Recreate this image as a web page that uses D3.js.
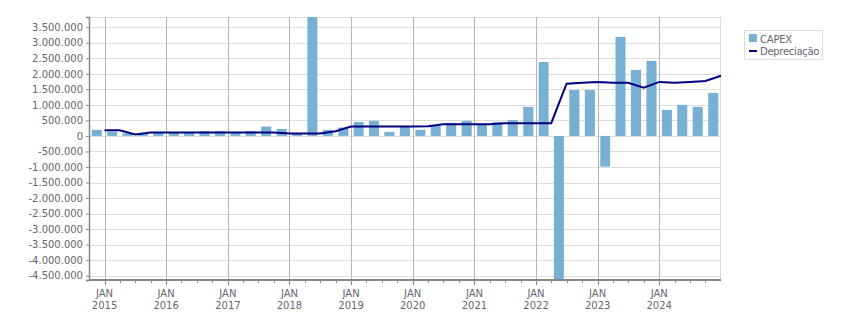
<!DOCTYPE html>
<html>
<head>
<meta charset="utf-8">
<script src="https://cdn.jsdelivr.net/npm/d3@7"></script>
<style>
  body { margin: 0; background: #fff; }
  svg { display: block; font-family: "DejaVu Sans", sans-serif; }
</style>
</head>
<body>
<svg id="grafico"></svg>
<script>
// trimestres (ano-trimestre), de 4T2014 a 4T2024
var trimestres = [
  "2014-4",
  "2015-1", "2015-2", "2015-3", "2015-4",
  "2016-1", "2016-2", "2016-3", "2016-4",
  "2017-1", "2017-2", "2017-3", "2017-4",
  "2018-1", "2018-2", "2018-3", "2018-4",
  "2019-1", "2019-2", "2019-3", "2019-4",
  "2020-1", "2020-2", "2020-3", "2020-4",
  "2021-1", "2021-2", "2021-3", "2021-4",
  "2022-1", "2022-2", "2022-3", "2022-4",
  "2023-1", "2023-2", "2023-3", "2023-4",
  "2024-1", "2024-2", "2024-3", "2024-4"
];

var capex = [
  195000,
  140000, 85000, 85000, 100000,
  95000, 100000, 160000, 160000,
  90000, 160000, 300000, 225000,
  60000, 3830000, 195000, 270000,
  450000, 485000, 130000, 300000,
  195000, 320000, 420000, 485000,
  375000, 450000, 515000, 935000,
  2380000, -4640000, 1480000, 1480000,
  -990000, 3190000, 2125000, 2415000,
  840000, 1000000, 935000, 1385000
];

var depreciacao = [
  180000,
  180000, 50000, 110000, 110000,
  110000, 110000, 110000, 110000,
  110000, 110000, 110000, 80000,
  75000, 75000, 150000, 300000,
  300000, 300000, 300000, 300000,
  310000, 375000, 375000, 375000,
  375000, 410000, 410000, 410000,
  410000, 1680000, 1710000, 1740000,
  1710000, 1710000, 1550000, 1740000,
  1710000, 1740000, 1770000, 1940000
];

var anos = ["2015", "2016", "2017", "2018", "2019", "2020", "2021", "2022", "2023", "2024"];
var yTicks = [-4500000, -4000000, -3500000, -3000000, -2500000, -2000000, -1500000, -1000000,
  -500000, 0, 500000, 1000000, 1500000, 2000000, 2500000, 3000000, 3500000];

var largura = 851, altura = 313;
var margin = { top: 17, right: 130, bottom: 33, left: 89 };
var w = largura - margin.left - margin.right;
var h = altura - margin.top - margin.bottom;

var corBarra = "#78b0d3";
var corLinha = "#000080";
var corTexto = "#666670";

// inicio e fim de cada trimestre
function inicioTri(t) {
  var p = t.split("-");
  return new Date(+p[0], (+p[1] - 1) * 3, 1);
}
function fimTri(t) {
  var p = t.split("-");
  return new Date(+p[0], (+p[1]) * 3, 1);
}

var dados = trimestres.map(function(t, i) {
  return { ini: inicioTri(t), fim: fimTri(t), capex: capex[i], dep: depreciacao[i] };
});

var svg = d3.select("#grafico")
  .attr("width", largura)
  .attr("height", altura);

var g = svg.append("g")
  .attr("transform", "translate(" + margin.left + "," + margin.top + ")");

var x = d3.scaleTime()
  .domain([dados[0].ini, dados[dados.length - 1].fim])
  .range([0, w]);

var y = d3.scaleLinear()
  .domain(d3.extent(capex))
  .range([h, 0]);

var locale = d3.formatLocale({ decimal: ",", thousands: ".", grouping: [3], currency: ["R$", ""], minus: "-" });
var fmt = locale.format(",.0f");

/* grade horizontal */
g.append("g")
  .selectAll("line")
  .data(yTicks)
  .enter()
  .append("line")
  .attr("x1", 0)
  .attr("x2", w)
  .attr("y1", function(d) { return Math.round(y(d)) + 0.5; })
  .attr("y2", function(d) { return Math.round(y(d)) + 0.5; })
  .attr("stroke", "#dcdcdc");

// borda de cima e direita
g.append("line").attr("x1", 0).attr("x2", w).attr("y1", 0.5).attr("y2", 0.5).attr("stroke", "#dcdcdc");
g.append("line").attr("x1", w - 0.5).attr("x2", w - 0.5).attr("y1", 0).attr("y2", h).attr("stroke", "#dcdcdc");

/* grade vertical nos JAN */
var janeiros = anos.map(function(a) { return new Date(+a, 0, 1); });
g.append("g")
  .selectAll("line")
  .data(janeiros)
  .enter()
  .append("line")
  .attr("x1", function(d) { return Math.round(x(d)) + 0.5; })
  .attr("x2", function(d) { return Math.round(x(d)) + 0.5; })
  .attr("y1", 0)
  .attr("y2", h)
  .attr("stroke", "#b4b4b4");

/* barras */
g.append("g")
  .selectAll("rect")
  .data(dados)
  .enter()
  .append("rect")
  .attr("x", function(d) {
    var meio = (x(d.ini) + x(d.fim)) / 2;
    var passo = x(d.fim) - x(d.ini);
    return meio - passo * 0.325;
  })
  .attr("width", function(d) { return (x(d.fim) - x(d.ini)) * 0.65; })
  .attr("y", function(d) { return y(Math.max(0, d.capex)); })
  .attr("height", function(d) { return Math.abs(y(d.capex) - y(0)); })
  .attr("fill", corBarra);

/* linha depreciacao */
var linha = d3.line()
  .x(function(d) { return x(d.fim); })
  .y(function(d) { return y(d.dep); });

g.append("path")
  .datum(dados)
  .attr("d", linha)
  .attr("fill", "none")
  .attr("stroke", corLinha)
  .attr("stroke-width", 2);

/* eixo Y */
var eixoY = g.append("g")
  .call(d3.axisLeft(y).tickValues(yTicks).tickFormat(fmt).tickSize(3).tickPadding(3));
eixoY.select(".domain").attr("stroke", "#888").attr("stroke-width", 1.5);
eixoY.selectAll(".tick line").attr("stroke", "#888");
eixoY.selectAll("text")
  .attr("fill", corTexto)
  .style("font-size", "10px")
  .style("font-family", "DejaVu Sans");

/* eixo X */
var eixoX = g.append("g")
  .attr("transform", "translate(0," + h + ")");

eixoX.append("line")
  .attr("x1", 0).attr("x2", w)
  .attr("y1", 0).attr("y2", 0)
  .attr("stroke", "#888")
  .attr("stroke-width", 2);

// ticks menores trimestrais
eixoX.selectAll(".menor")
  .data(dados.slice(0, dados.length - 1))
  .enter()
  .append("line")
  .attr("class", "menor")
  .attr("x1", function(d) { return Math.round(x(d.fim)) + 0.5; })
  .attr("x2", function(d) { return Math.round(x(d.fim)) + 0.5; })
  .attr("y1", 1)
  .attr("y2", 3)
  .attr("stroke", "#888");

eixoX.selectAll(".maior")
  .data(janeiros)
  .enter()
  .append("line")
  .attr("class", "maior")
  .attr("x1", function(d) { return Math.round(x(d)) + 0.5; })
  .attr("x2", function(d) { return Math.round(x(d)) + 0.5; })
  .attr("y1", 1)
  .attr("y2", 5)
  .attr("stroke", "#888");

var rotulos = eixoX.selectAll(".rotulo")
  .data(janeiros)
  .enter()
  .append("text")
  .attr("class", "rotulo")
  .attr("text-anchor", "middle")
  .attr("fill", corTexto)
  .style("font-size", "10px");

rotulos.append("tspan")
  .attr("x", function(d) { return x(d); })
  .attr("y", 17)
  .text("JAN");
rotulos.append("tspan")
  .attr("x", function(d) { return x(d); })
  .attr("y", 29)
  .text(function(d) { return d.getFullYear(); });

/* legenda */
var leg = svg.append("g").attr("transform", "translate(744,30)");
leg.append("rect")
  .attr("x", 0.5).attr("y", 0.5)
  .attr("width", 78).attr("height", 29)
  .attr("fill", "#fff")
  .attr("stroke", "#dcdcdc");
leg.append("rect")
  .attr("x", 5).attr("y", 4)
  .attr("width", 8).attr("height", 8)
  .attr("fill", corBarra);
leg.append("line")
  .attr("x1", 5).attr("x2", 13)
  .attr("y1", 21).attr("y2", 21)
  .attr("stroke", corLinha)
  .attr("stroke-width", 2);
leg.append("text")
  .attr("x", 16).attr("y", 12.5)
  .attr("fill", corTexto)
  .style("font-size", "10px")
  .style("letter-spacing", "-0.2px")
  .text("CAPEX");
leg.append("text")
  .attr("x", 16).attr("y", 25)
  .attr("fill", corTexto)
  .style("font-size", "10px")
  .style("letter-spacing", "-0.3px")
  .text("Depreciação");
</script>
</body>
</html>
